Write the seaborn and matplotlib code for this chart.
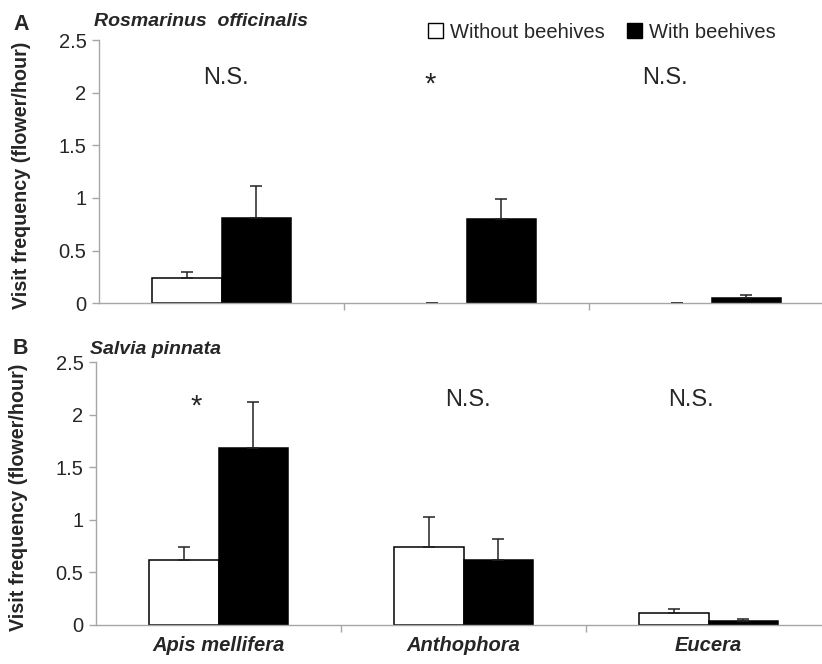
import numpy as np
import pandas as pd
import matplotlib
matplotlib.use("Agg")
import matplotlib.pyplot as plt
from matplotlib.patches import Patch
import seaborn as sns

# ── data ──────────────────────────────────────────────────────────────────────
species    = ["Apis mellifera", "Anthophora", "Eucera"]
treatments = ["Without beehives", "With beehives"]

# A: Rosmarinus officinalis
rosm_without     = [0.24, 0.0, 0.0]
rosm_with        = [0.81, 0.80, 0.05]
rosm_without_err = [0.06, 0.0, 0.0]
rosm_with_err    = [0.30, 0.19, 0.025]
rosm_sig         = ["N.S.", "*", "N.S."]

# B: Salvia pinnata
salv_without     = [0.62, 0.74, 0.11]
salv_with        = [1.68, 0.62, 0.04]
salv_without_err = [0.12, 0.29, 0.04]
salv_with_err    = [0.44, 0.20, 0.016]
salv_sig         = ["*", "N.S.", "N.S."]

sig_x = {"top": [0.02, -0.15, -0.19], "bottom": [-0.09, 0.02, -0.07]}

sns.set_style("ticks")
plt.rcParams["font.family"] = ["Liberation Sans", "DejaVu Sans"]

W, H = 822, 664
fig = plt.figure(figsize=(W / 100, H / 100), dpi=100)
ax_top = fig.add_axes([99 / W, 1 - 303.3 / H, 735 / W, 263.3 / H])
ax_bot = fig.add_axes([96 / W, 1 - 625 / H, 735 / W, 262.7 / H])

PALETTE = {"Without beehives": "white", "With beehives": "black"}
GREY = "#a6a6a6"


def draw_panel(ax, without, with_, without_err, with_err, sig, sx, show_x):
    df = pd.DataFrame({
        "species": species * 2,
        "treatment": [treatments[0]] * 3 + [treatments[1]] * 3,
        "visits": without + with_,
    })
    errs = [without_err, with_err]
    sns.barplot(data=df, x="species", y="visits", hue="treatment",
                order=species, hue_order=treatments, palette=PALETTE,
                edgecolor="black", linewidth=1.1, width=0.57,
                errorbar=None, legend=False, ax=ax)
    for p in ax.patches:
        cx = p.get_x() + p.get_width() / 2
        i = int(round(cx))
        h = 0 if cx < i else 1
        if p.get_height() == 0:
            p.set_linewidth(0)
        ax.errorbar(cx, p.get_height(), yerr=[[0], [errs[h][i]]],
                    fmt="none", ecolor="#222222", elinewidth=1.1,
                    capsize=4.5, capthick=1.1)
    for i, s in enumerate(sig):
        if s == "*":
            ax.text(i + sx[i], 2.08, s, ha="center", va="center",
                    fontsize=21)
        else:
            ax.text(i + sx[i], 2.14, s, ha="center", va="center",
                    fontsize=17)
    ax.set_ylim(0, 2.5)
    ax.set_xlim(-0.5, 2.5)
    ax.set_yticks([0, 0.5, 1, 1.5, 2, 2.5])
    ax.set_yticklabels(["0", "0.5", "1", "1.5", "2", "2.5"], fontsize=14.5)
    ax.set_xticks([0.5, 1.5], minor=True)
    ax.tick_params(axis="x", which="major", length=0, pad=8)
    ax.tick_params(axis="x", which="minor", length=5, color=GREY, width=1)
    ax.tick_params(axis="y", length=5, color=GREY, width=1, pad=4)
    if show_x:
        ax.set_xticklabels(species, fontsize=14.5, fontweight="bold",
                           fontstyle="italic")
    else:
        ax.set_xticklabels([])
    ax.set_xlabel("")
    ax.set_ylabel("Visit frequency (flower/hour)", fontsize=14.2,
                  fontweight="bold")
    ax.yaxis.set_label_coords(-0.093, 0.485)
    sns.despine(ax=ax)
    for sp in ["left", "bottom"]:
        ax.spines[sp].set_color(GREY)
        ax.spines[sp].set_linewidth(1)


draw_panel(ax_top, rosm_without, rosm_with, rosm_without_err, rosm_with_err,
           rosm_sig, sig_x["top"], False)
draw_panel(ax_bot, salv_without, salv_with, salv_without_err, salv_with_err,
           salv_sig, sig_x["bottom"], True)

# panel letters and plant names
fig.text(13 / W, 1 - 24 / H, "A", fontsize=15.5, fontweight="bold", va="center")
fig.text(94 / W, 1 - 22 / H, "Rosmarinus  officinalis", fontsize=14,
         fontweight="bold", fontstyle="italic", va="center")
fig.text(13 / W, 1 - 348 / H, "B", fontsize=15.5, fontweight="bold", va="center")
fig.text(90 / W, 1 - 350 / H, "Salvia pinnata", fontsize=14,
         fontweight="bold", fontstyle="italic", va="center")

handles = [Patch(facecolor=PALETTE[t], edgecolor="black", linewidth=1)
           for t in treatments]
fig.legend(handles, treatments, loc="center left",
           bbox_to_anchor=(428 / W, 1 - 32 / H), ncol=2, frameon=False,
           fontsize=14.5, handlelength=0.75, handleheight=0.75,
           handletextpad=0.35, columnspacing=1.1, borderpad=0,
           borderaxespad=0)

plt.savefig("out.png", dpi=100)
plt.close()
